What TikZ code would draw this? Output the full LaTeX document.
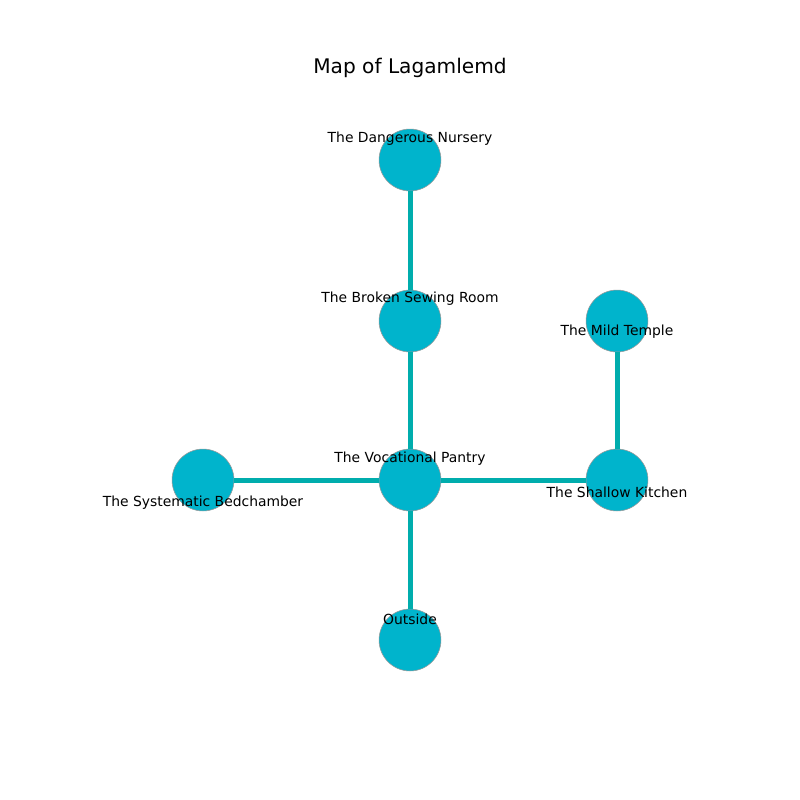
\documentclass[tikz,border=0pt]{standalone}
\usepackage{fontspec}
\setmainfont{DejaVu Sans}
\definecolor{roomfill}{HTML}{00B4CC}
\definecolor{pathcol}{HTML}{00ADAD}
\tikzset{
  room/.style={circle, draw=gray!80, line width=0.4pt, fill=roomfill, minimum size=44.6pt, inner sep=0pt},
  passage/.style={color=pathcol, line width=3.6pt},
  roomlabel/.style={font=\fontsize{10}{12}\selectfont, inner sep=0pt}
}
\begin{document}
\begin{tikzpicture}[x=0.72pt, y=-0.72pt]
                \useasboundingbox (0, 0) rectangle (800, 800);
                \node[font=\fontsize{14.5}{16}\selectfont] (title) at (410, 68) {Map of Lagamlemd};
                \node[room] (nursery) at (410, 160) {};
                \node[room] (sewing) at (410, 321) {};
                \node[room] (temple) at (617, 321) {};
                \node[room] (pantry) at (410, 480) {};
                \node[room] (bedchamber) at (203, 480) {};
                \node[room] (kitchen) at (617, 480) {};
                \node[room] (outside) at (410, 640) {};
                \draw[passage] (nursery) -- (sewing);
                \draw[passage] (sewing) -- (pantry);
                \draw[passage] (temple) -- (kitchen);
                \draw[passage] (pantry) -- (bedchamber);
                \draw[passage] (pantry) -- (kitchen);
                \draw[passage] (pantry) -- (outside);
                \node[roomlabel] (nurserytext) at (410, 139) {The Dangerous Nursery};
                \node[roomlabel] (sewingtext) at (410, 299) {The Broken Sewing Room};
                \node[roomlabel] (templetext) at (617, 332) {The Mild Temple};
                \node[roomlabel] (pantrytext) at (410, 459) {The Vocational Pantry};
                \node[roomlabel] (bedchambertext) at (203, 503) {The Systematic Bedchamber};
                \node[roomlabel] (kitchentext) at (617, 492) {The Shallow Kitchen};
                \node[roomlabel] (outsidetext) at (410, 619) {Outside};
            \end{tikzpicture}
\end{document}
